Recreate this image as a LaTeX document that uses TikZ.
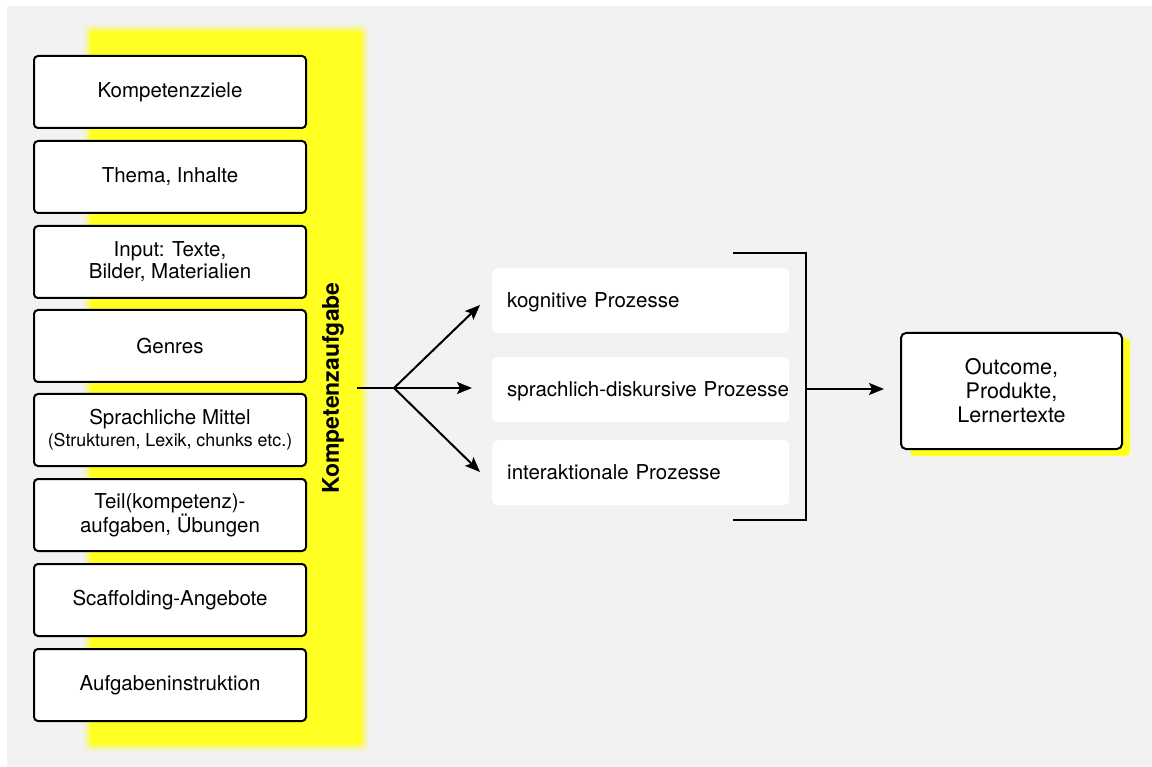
\documentclass[tikz,border=0pt]{standalone}
\usepackage{fontspec}
\setmainfont{TeX Gyre Heros}
\usetikzlibrary{arrows.meta}
\definecolor{bg}{HTML}{F2F2F2}
\definecolor{hl}{HTML}{FFFF22}
\begin{document}
\begin{tikzpicture}[x=1pt,y=-1pt,
  inbox/.style={draw=black, line width=2pt, fill=white, rounded corners=4pt,
    minimum width=272pt, minimum height=72pt, inner sep=0pt, align=center,
    font=\fontsize{20.5}{22}\selectfont},
  procbox/.style={fill=white, rounded corners=5pt, anchor=north west,
    minimum width=297pt, minimum height=65pt, text width=267pt, inner xsep=15pt,
    inner ysep=0pt, align=left, text height=16pt, text depth=2pt,
    font=\fontsize{20.5}{22}\selectfont},
  conn/.style={line width=2pt, draw=black},
  arr/.style={conn, -{Stealth[length=15pt, width=12pt, inset=3pt]}}]
\useasboundingbox (0,0) rectangle (1152,767);
\fill[bg] (7,6) rectangle (1152,767);

% highlighted band behind the input column, with soft edges
\foreach \d/\o in {7/0.12, 5/0.18, 3/0.25, 1/0.35}
  \fill[hl, opacity=\o, rounded corners=6pt] (90-\d,31-\d) rectangle (362+\d,745+\d);
\fill[hl] (90,31) rectangle (362,745);

% input column
\node[inbox] (ziele)   at (170,92)  {Kompetenzziele};
\node[inbox] (thema)   at (170,177) {Thema, Inhalte};
\node[inbox] (input)   at (170,262) {Input: Texte,\\Bilder, Materialien};
\node[inbox] (genres)  at (170,346) {Genres};
\node[inbox] (mittel)  at (170,430) {Sprachliche Mittel\\{\fontsize{17.8}{22}\selectfont(Strukturen, Lexik, chunks etc.)}};
\node[inbox] (teil)    at (170,515) {Teil(kompetenz)-\\aufgaben, Übungen};
\node[inbox] (scaff)   at (170,600) {Scaffolding-Angebote};
\node[inbox] (instr)   at (170,685) {Aufgabeninstruktion};

\node[rotate=90, font=\bfseries\fontsize{23}{25}\selectfont] (task) at (333,388) {Kompetenzaufgabe};

% processes
\node[procbox] (kog)   at (492,268) {kognitive Prozesse};
\node[procbox] (spr)   at (492,357) {\mbox{sprachlich-diskursive Prozesse}};
\node[procbox] (inter) at (492,440) {interaktionale Prozesse};

% outcome with offset highlight
\fill[hl, rounded corners=4pt] (910,338) rectangle (1130,456);
\node[draw=black, line width=2pt, fill=white, rounded corners=5pt,
  minimum width=221pt, minimum height=116pt, inner sep=0pt, align=center,
  font=\fontsize{21.5}{24}\selectfont] (out) at (1011.5,391) {Outcome,\\Produkte,\\Lernertexte};

% fan-out from the task
\coordinate (src)  at (357,388);
\coordinate (fork) at (394,388);
\coordinate (tkog) at (480,305);
\coordinate (tspr) at (472,388);
\coordinate (tint) at (480,472);
\draw[conn] (src) -- (fork);
\draw[arr] (fork) -- (tkog);
\draw[arr] (fork) -- (tspr);
\draw[arr] (fork) -- (tint);

% bracket collecting the processes
\coordinate (btop) at (733,253);
\coordinate (bbot) at (733,520);
\coordinate (bmid) at (806,389);
\draw[line width=2.2pt] (btop) -| (806,520) -- (bbot);
\draw[arr, shorten >=16pt] (bmid) -- (bmid -| out.west);
\end{tikzpicture}
\end{document}
